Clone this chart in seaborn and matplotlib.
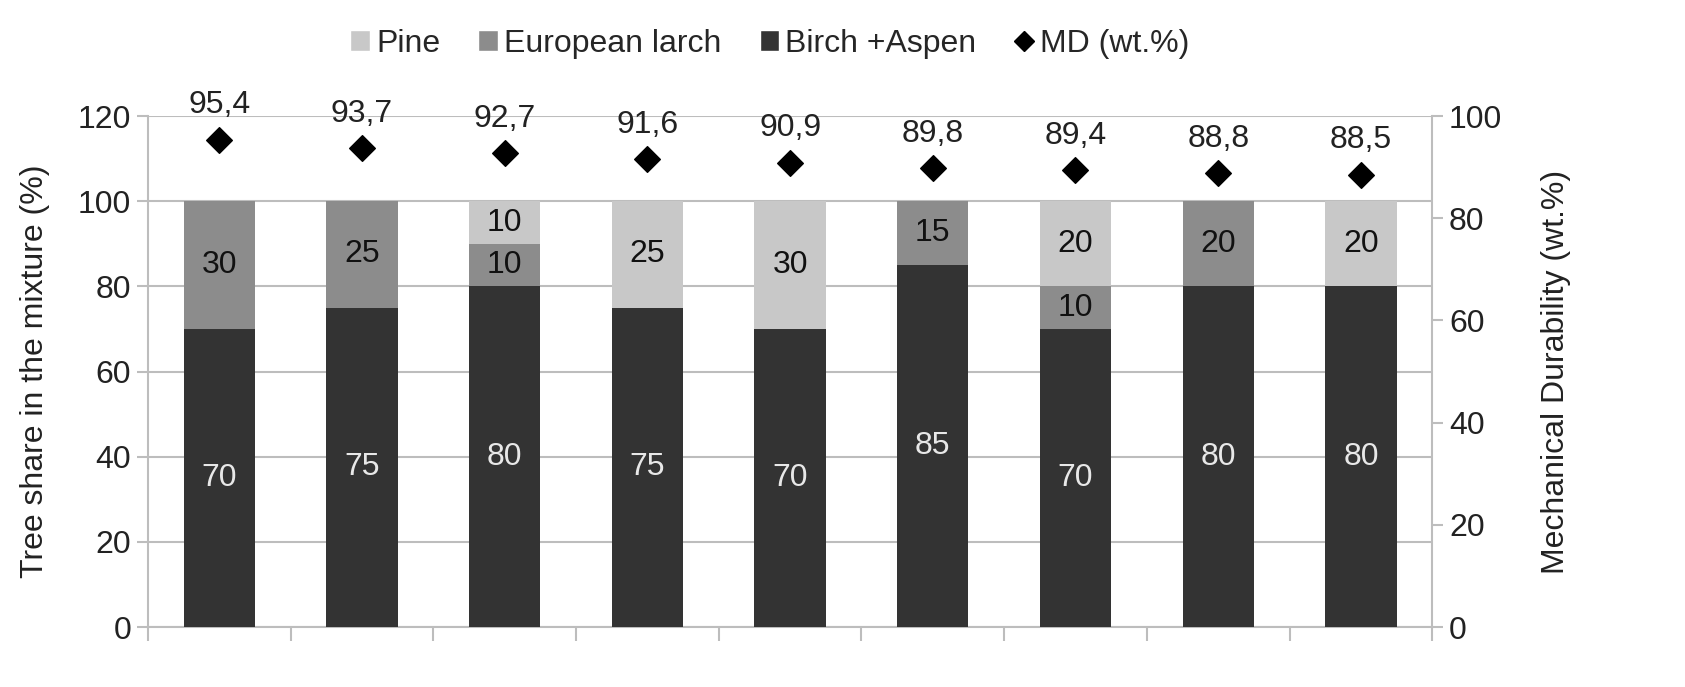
import matplotlib
matplotlib.use("Agg")
import matplotlib.pyplot as plt
import seaborn as sns
import pandas as pd
import numpy as np
from matplotlib.lines import Line2D
from matplotlib.patches import Patch

categories = ["1", "2", "3", "4", "5", "6", "7", "8", "9"]
birch_aspen = [70, 75, 80, 75, 70, 85, 70, 80, 80]
european_larch = [30, 25, 10, 0, 0, 15, 10, 20, 0]
pine = [0, 0, 10, 25, 30, 0, 20, 0, 20]
md = [95.4, 93.7, 92.7, 91.6, 90.9, 89.8, 89.4, 88.8, 88.5]
left_ticks = [0, 20, 40, 60, 80, 100, 120]
right_ticks = [0, 20, 40, 60, 80, 100]

C_BIRCH = "#333333"
C_LARCH = "#8c8c8c"
C_PINE = "#c8c8c8"
GRID = "#bdbdbd"

sns.set_theme(style="white")
plt.rcParams["font.family"] = ["Liberation Sans", "DejaVu Sans"]
FS = 23

df = pd.DataFrame({"cat": categories, "birch": birch_aspen,
                   "larch": european_larch, "pine": pine, "md": md})
df["l2"] = df["birch"] + df["larch"]
df["l3"] = df["l2"] + df["pine"]

fig = plt.figure(figsize=(16.85, 6.87), dpi=100)
ax = fig.add_axes([0.0878, 0.0873, 0.7622, 0.7437])

sns.barplot(data=df, x="cat", y="l3", color=C_PINE, width=0.5, ax=ax,
            saturation=1, edgecolor="none", linewidth=0, zorder=2)
sns.barplot(data=df, x="cat", y="l2", color=C_LARCH, width=0.5, ax=ax,
            saturation=1, edgecolor="none", linewidth=0, zorder=3)
sns.barplot(data=df, x="cat", y="birch", color=C_BIRCH, width=0.5, ax=ax,
            saturation=1, edgecolor="none", linewidth=0, zorder=4)

for i in range(len(categories)):
    b, l, p = birch_aspen[i], european_larch[i], pine[i]
    ax.text(i, b / 2, f"{b}", ha="center", va="center", color="#e8e8e8",
            fontsize=FS, zorder=6)
    if l:
        ax.text(i, b + l / 2, f"{l}", ha="center", va="center", color="#111111",
                fontsize=FS, zorder=6)
    if p:
        ax.text(i, b + l + p / 2, f"{p}", ha="center", va="center", color="#111111",
                fontsize=FS, zorder=6)

ax.set_ylim(0, 120)
ax.set_xlim(-0.5, len(categories) - 0.5)
ax.set_yticks(left_ticks)
ax.yaxis.grid(True, color=GRID, linewidth=1.5, zorder=0)
ax.set_axisbelow(True)
ax.set_xticks(np.arange(-0.5, len(categories), 1.0))
ax.set_xticklabels([])
ax.tick_params(axis="x", direction="out", length=10, width=1.5, color=GRID, bottom=True)
ax.tick_params(axis="y", direction="out", length=8, width=1.5, color=GRID,
               labelsize=FS, labelcolor="#222222", left=True, pad=4)
ax.set_xlabel("")
ax.set_ylabel("Tree share in the mixture (%)", fontsize=FS, color="#222222", labelpad=20)
for s in ["left", "bottom", "right"]:
    ax.spines[s].set_color(GRID)
    ax.spines[s].set_linewidth(1.5)
ax.spines["top"].set_visible(False)

ax2 = ax.twinx()
sns.scatterplot(x=np.arange(len(categories)), y=md, marker="D", s=170,
                color="black", edgecolor="black", ax=ax2, zorder=7, legend=False)
for i, v in enumerate(md):
    ax2.annotate(f"{v:.1f}".replace(".", ","), (i, v), xytext=(0, 14),
                 textcoords="offset points", ha="center", va="bottom",
                 fontsize=FS, color="#222222")
ax2.set_ylim(0, 100)
ax2.set_yticks(right_ticks)
ax2.tick_params(axis="y", direction="out", length=8, width=1.5, color=GRID,
                labelsize=FS, labelcolor="#222222", right=True, pad=4)
ax2.set_ylabel("Mechanical Durability (wt.%)", fontsize=FS, color="#222222", labelpad=28)
for s in ["left", "bottom", "right", "top"]:
    ax2.spines[s].set_visible(False)
ax2.grid(False)

handles = [Patch(facecolor=C_PINE, label="Pine"),
           Patch(facecolor=C_LARCH, label="European larch"),
           Patch(facecolor=C_BIRCH, label="Birch +Aspen"),
           Line2D([], [], marker="D", color="black", linestyle="none",
                  markersize=10, label="MD (wt.%)")]
fig.legend(handles=handles, loc="upper center", bbox_to_anchor=(0.457, 1.0),
           ncol=4, frameon=False, fontsize=FS, handlelength=0.6, handleheight=0.6,
           handletextpad=0.2, columnspacing=1.2)

fig.savefig("out.png", dpi=100)
